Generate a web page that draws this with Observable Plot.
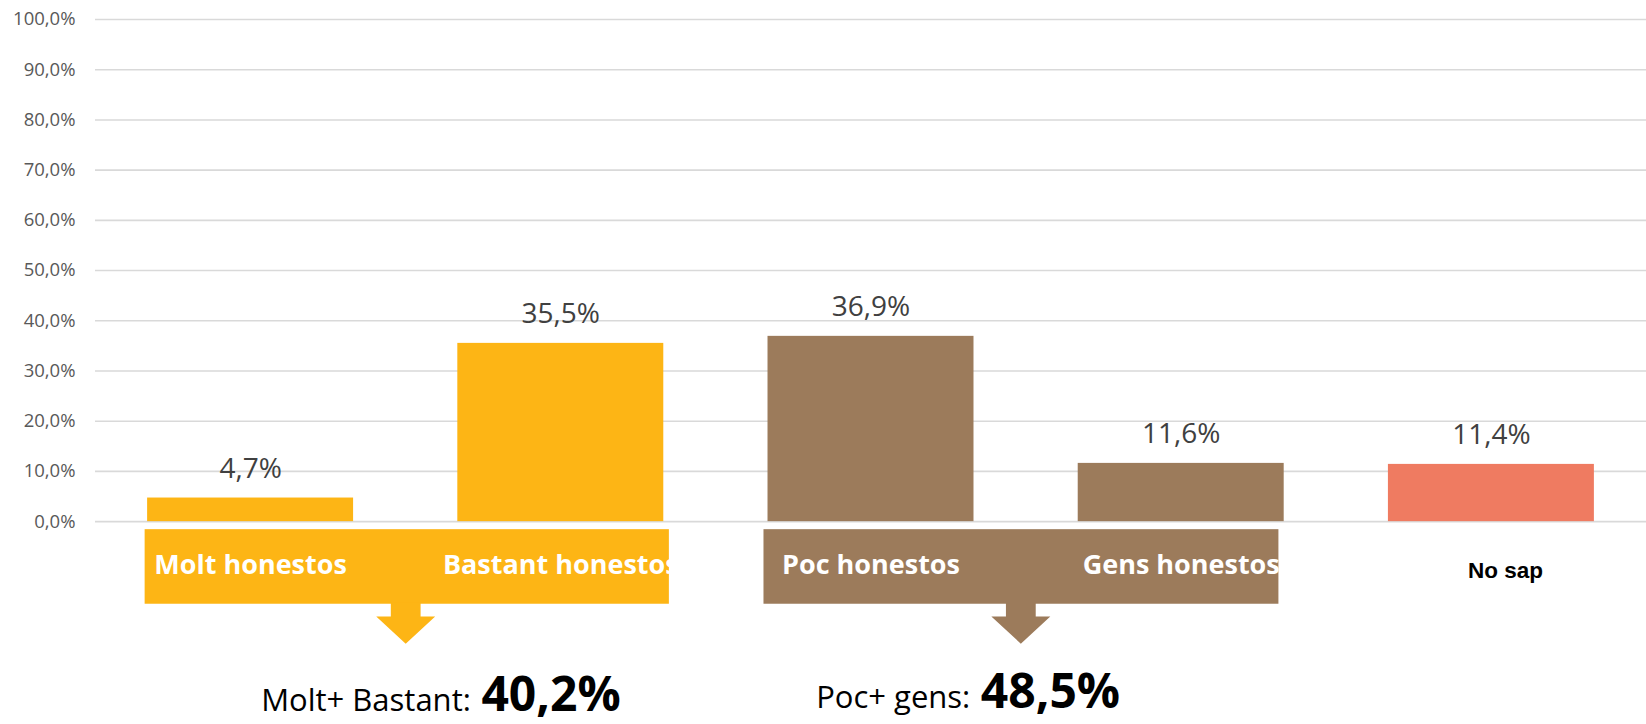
<!DOCTYPE html>
<html>
<head>
<meta charset="utf-8">
<script src="https://cdn.jsdelivr.net/npm/d3@7"></script>
<script src="https://cdn.jsdelivr.net/npm/@observablehq/plot@0.6"></script>
<style>
  html, body { margin: 0; padding: 0; background: #fff; }
  #chart svg { display: block; }
</style>
</head>
<body>
<div id="chart"></div>
<script>
// ---- data ----
const categories = ["Molt honestos", "Bastant honestos", "Poc honestos", "Gens honestos", "No sap"];
const values = [4.7, 35.5, 36.9, 11.6, 11.4];
const barColors = ["#FDB515", "#FDB515", "#9C7B5B", "#9C7B5B", "#EF7B61"];
const yTicks = [0, 10, 20, 30, 40, 50, 60, 70, 80, 90, 100];
const groupNames = ["Molt+ Bastant:", "Poc+ gens:"];
const groupTotals = [40.2, 48.5];
const groupFirst = [0, 2];
const groupLast = [1, 3];
const groupColors = ["#FDB515", "#9C7B5B"];

const fmt = v => v.toFixed(1).replace(".", ",") + "%";

const bars = categories.map((c, i) => ({cat: c, i, value: values[i], color: barColors[i]}));
const groups = groupNames.map((n, k) => ({
  name: n, total: groupTotals[k], first: groupFirst[k], last: groupLast[k],
  color: groupColors[k], center: (groupFirst[k] + groupLast[k]) / 2
}));
const inGroup = d => groups.some(g => d.i >= g.first && d.i <= g.last);

// ---- layout / style constants ----
const barHalf = 0.332, boxPadL = [0.34, 0.345], boxPadR = [0.35, 0.315];
const boxTop = -1.6, boxBottom = -16.45, arrowNeck = -18.9, arrowTip = -24.3;
const stemHalf = 0.048, headHalf = 0.095, arrowShift = [0, -0.017];
const calloutShift = [0.21, -0.18], calloutGap = 0.034, calloutBase = [-37.7, -37.2];
const labelBase = -10.35, noSapBase = -11.2;

const arrowPts = groups.flatMap((g, k) => {
  const c = g.center + arrowShift[k];
  return [
    [c - stemHalf, boxBottom + 0.3], [c + stemHalf, boxBottom + 0.3],
    [c + stemHalf, arrowNeck], [c + headHalf, arrowNeck], [c, arrowTip],
    [c - headHalf, arrowNeck], [c - stemHalf, arrowNeck]
  ].map(([x, y]) => ({x, y, k}));
});

const chart = Plot.plot({
  width: 1646, height: 724,
  marginLeft: 95, marginRight: 0, marginTop: 19, marginBottom: 0,
  x: {type: "linear", domain: [-0.5, 4.5], axis: null},
  y: {domain: [-40.4, 100], axis: null},
  color: {type: "identity"},
  style: {fontFamily: "'Open Sans', sans-serif", background: "#fff", color: "#595959", overflow: "visible"},
  marks: [
    Plot.gridY(yTicks, {stroke: "#d9d9d9", strokeOpacity: 1, strokeWidth: 1.6}),
    Plot.axisY(yTicks, {tickSize: 0, tickPadding: 20, tickFormat: fmt, fontSize: 18.5, fill: "#595959", label: null}),
    Plot.rectY(bars, {x1: d => d.i - barHalf, x2: d => d.i + barHalf, y: "value", fill: "color"}),
    Plot.text(bars, {x: "i", y: "value", text: d => fmt(d.value), lineAnchor: "bottom", dy: -20, fontSize: 28, fill: "#404040"}),
    Plot.rect(groups, {x1: (d, k) => d.first - boxPadL[k], x2: (d, k) => d.last + boxPadR[k], y1: () => boxTop, y2: () => boxBottom, fill: "color"}),
    ...groups.map((g, k) => Plot.line(arrowPts.filter(p => p.k === k), {x: "x", y: "y", fill: g.color, stroke: "none"})),
    Plot.text(bars.filter(inGroup), {x: "i", y: () => labelBase, text: "cat", fill: "white", fontWeight: "bold", fontSize: 27, lineAnchor: "bottom"}),
    Plot.text(bars.filter(d => !inGroup(d)), {x: "i", y: () => noSapBase, text: "cat", fill: "black", fontFamily: "'Liberation Sans', Arial, sans-serif", fontWeight: "bold", fontSize: 22.5, dx: 14, lineAnchor: "bottom"}),
    Plot.text(groups, {x: (d, k) => d.center + calloutShift[k], y: (d, k) => calloutBase[k], text: "name", textAnchor: "end", fontSize: 31, fill: "black", lineAnchor: "bottom"}),
    Plot.text(groups, {x: (d, k) => d.center + calloutShift[k] + calloutGap, y: (d, k) => calloutBase[k], text: d => fmt(d.total), textAnchor: "start", fontSize: 48, fontWeight: "bold", fill: "black", lineAnchor: "bottom"})
  ]
});
document.getElementById("chart").appendChild(chart);
</script>
</body>
</html>
